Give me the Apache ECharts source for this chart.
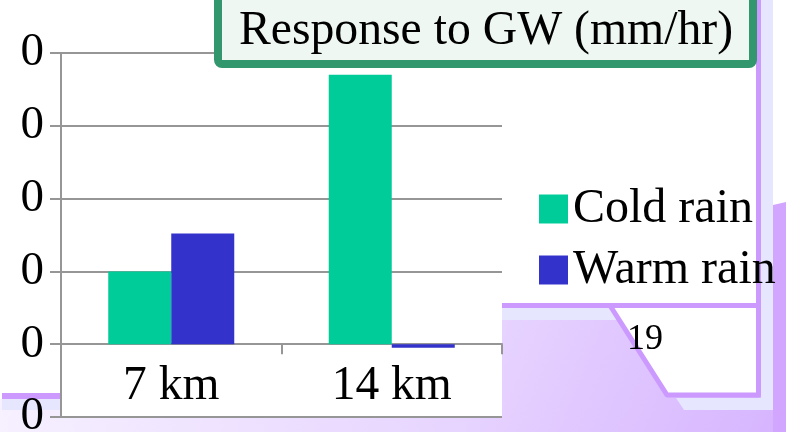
<!DOCTYPE html>
<html>
<head>
<meta charset="utf-8">
<script src="https://cdn.jsdelivr.net/npm/echarts@6/dist/echarts.min.js"></script>
<style>
  html, body { margin: 0; padding: 0; background: #ffffff; }
  #chart { width: 786px; height: 432px; }
</style>
</head>
<body>
<div id="chart"></div>
<script>
// Rainfall response to global warming at two altitudes
const categories = ['7 km', '14 km'];
const coldRain = [0.05, 0.185];
const warmRain = [0.076, -0.0025];
const seriesNames = ['Cold rain', 'Warm rain'];
const titleText = 'Response to GW (mm/hr)';
const pageNumber = '19';
const yMin = -0.05, yMax = 0.2, yStep = 0.05;

const FONT = 'Liberation Serif';
const PURPLE = '#cc99ff';
const LAVENDER = '#e6e6ff';

const GRID = { left: 61, right: 284, top: 53, bottom: 15 };
const CHART_H = 432;
// lift the category axis up to the zero line of the value axis
const plotH = CHART_H - GRID.top - GRID.bottom;
const zeroOffset = -(0 - yMin) / (yMax - yMin) * plotH;

const chart = echarts.init(document.getElementById('chart'), null, { renderer: 'canvas' });

const backdrop = [
  // soft purple floor across the bottom
  { type: 'rect', z: -10, shape: { x: 0, y: 399, width: 786, height: 33 },
    style: { fill: new echarts.graphic.LinearGradient(0, 0, 1, 0, [
      { offset: 0, color: '#f6f0ff' }, { offset: 1, color: '#dcc0ff' }]) } },
  // left frame line and its pale band
  { type: 'rect', z: -9, shape: { x: 2, y: 393, width: 120, height: 6 }, style: { fill: PURPLE } },
  { type: 'rect', z: -9, shape: { x: 2, y: 399, width: 120, height: 11 }, style: { fill: LAVENDER } },
  // right lower panel
  { type: 'rect', z: -9, shape: { x: 480, y: 303, width: 306, height: 129 },
    style: { fill: new echarts.graphic.LinearGradient(0, 0, 1, 1, [
      { offset: 0, color: '#e8d6ff' }, { offset: 1, color: '#d6b4ff' }]) } },
  { type: 'rect', z: -8, shape: { x: 480, y: 308, width: 150, height: 12 }, style: { fill: LAVENDER } },
  // right vertical frame
  { type: 'rect', z: -8, shape: { x: 761, y: 0, width: 12, height: 410 }, style: { fill: LAVENDER } },
  { type: 'polygon', z: -8, shape: { points: [[676, 398], [773, 398], [773, 410], [684, 410]] }, style: { fill: LAVENDER } },
  { type: 'polygon', z: -8, shape: { points: [[773, 205], [786, 202], [786, 432], [773, 432]] }, style: { fill: '#d2a6ff' } },
  // page-number tab
  { type: 'polygon', z: -7, shape: { points: [[610, 305.5], [758.5, 305.5], [758.5, 395], [667, 395]] },
    style: { fill: '#ffffff', stroke: PURPLE, lineWidth: 5, lineJoin: 'round' } },
  { type: 'rect', z: -7, shape: { x: 756, y: 0, width: 5, height: 306 }, style: { fill: PURPLE } },
  { type: 'rect', z: -7, shape: { x: 480, y: 303, width: 132, height: 5 }, style: { fill: PURPLE } },
  { type: 'text', z: -6, x: 645, y: 340,
    style: { text: pageNumber, font: '36px "' + FONT + '"', fill: '#000', align: 'center', verticalAlign: 'middle' } },
  // title box
  { type: 'rect', z: 50, shape: { x: 218, y: -20, width: 535, height: 84, r: 4 },
    style: { fill: '#eef7f2', stroke: '#33976e', lineWidth: 8 } },
  { type: 'text', z: 51, x: 486, y: 31,
    style: { text: titleText, font: '47.7px "' + FONT + '"', fill: '#000', align: 'center', verticalAlign: 'middle' } }
];

chart.setOption({
  animation: false,
  backgroundColor: 'transparent',
  textStyle: { fontFamily: FONT },
  graphic: { elements: backdrop },
  grid: Object.assign({}, GRID, {
    outerBoundsMode: 'none', containLabel: false,
    show: true, backgroundColor: '#ffffff', borderWidth: 0
  }),
  legend: {
    data: seriesNames,
    orient: 'vertical',
    left: 534, top: 179,
    icon: 'rect',
    itemWidth: 29, itemHeight: 29,
    itemGap: 11,
    textStyle: { fontFamily: FONT, fontSize: 48, color: '#000', lineHeight: 50, padding: [0, 0, 0, 0] }
  },
  xAxis: {
    type: 'category',
    data: categories,
    position: 'bottom',
    offset: zeroOffset,
    axisLine: { onZero: false, lineStyle: { color: '#969696', width: 2 } },
    axisTick: { show: true, length: 10, lineStyle: { color: '#969696', width: 2 } },
    axisLabel: { color: '#000', fontFamily: FONT, fontSize: 47.5, margin: 18 }
  },
  yAxis: {
    type: 'value',
    min: yMin, max: yMax, interval: yStep,
    axisLine: { show: true, lineStyle: { color: '#969696', width: 2 } },
    axisTick: { show: true, length: 11, lineStyle: { color: '#969696', width: 2 } },
    splitLine: { lineStyle: { color: '#969696', width: 2 } },
    axisLabel: { color: '#000', fontFamily: FONT, fontSize: 47, margin: 17,
      formatter: v => String(Math.round(v)) }
  },
  series: [
    { name: seriesNames[0], type: 'bar', data: coldRain, barWidth: 63, barGap: '0%',
      itemStyle: { color: '#00cc99' } },
    { name: seriesNames[1], type: 'bar', data: warmRain, barWidth: 63, barGap: '0%',
      itemStyle: { color: '#3333cc' } }
  ]
});
</script>
</body>
</html>
